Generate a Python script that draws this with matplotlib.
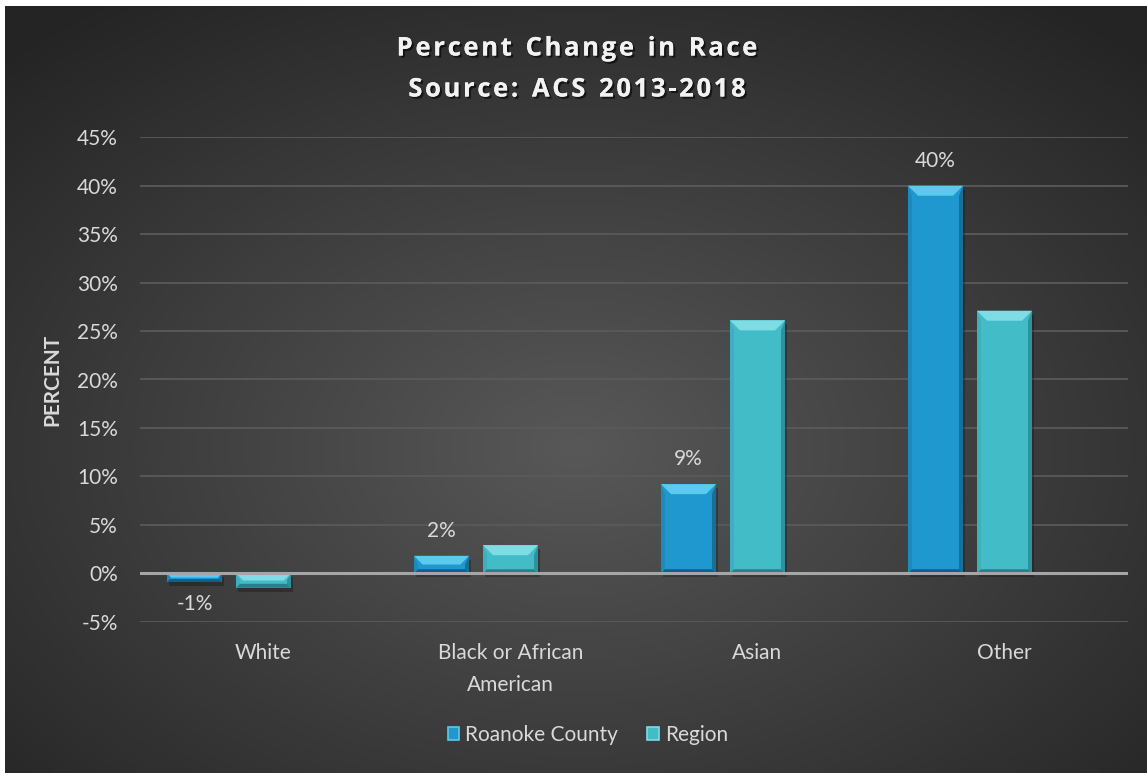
import numpy as np
import matplotlib
matplotlib.use("Agg")
import matplotlib.pyplot as plt
from matplotlib.patches import Polygon, Rectangle, Patch
import matplotlib.patheffects as pe

categories = ["White", "Black or African\nAmerican", "Asian", "Other"]
roanoke = [-0.9, 1.8, 9.2, 40.0]
region = [-1.5, 2.9, 26.1, 27.1]
roanoke_labels = ["-1%", "2%", "9%", "40%"]
yticks = [-5, 0, 5, 10, 15, 20, 25, 30, 35, 40, 45]
series_names = ["Roanoke County", "Region"]
title_lines = ["Percent Change in Race", "Source: ACS 2013-2018"]

FONT = "Lato"
TXT = "#D9D9D9"
FS = 15
W, H = 1147, 773
fig = plt.figure(figsize=(W / 100, H / 100), dpi=100, facecolor="white")

# background radial gradient
bg = fig.add_axes([5 / W, 0, 1 - 5 / W, 1 - 6 / H])
bg.set_axis_off()
yy, xx = np.mgrid[0:400, 0:600]
cx, cy = 300, 230
r = np.sqrt(((xx - cx) / 600) ** 2 + ((yy - cy) / 400) ** 2)
r = np.clip(r / 0.72, 0, 1)
inner = np.array([0x58, 0x58, 0x58]) / 255
outer = np.array([0x24, 0x24, 0x24]) / 255
img = inner[None, None, :] * (1 - r[..., None]) + outer[None, None, :] * r[..., None]
bg.imshow(img, aspect="auto", extent=[0, 1, 0, 1], origin="upper")
bg.set_xlim(0, 1)
bg.set_ylim(0, 1)

ax_l, ax_r = 140 / W, 1128 / W
ax_b, ax_t = 1 - 621.7 / H, 1 - 137.3 / H
ax = fig.add_axes([ax_l, ax_b, ax_r - ax_l, ax_t - ax_b])
ax.patch.set_alpha(0)
ax.set_xlim(-0.5, 3.5)
ax.set_ylim(-5, 45)
for s in ax.spines.values():
    s.set_visible(False)

ax.set_yticks(yticks)
ax.set_yticklabels([f"{v}%" for v in yticks], fontsize=FS, color=TXT, family=FONT)
ax.set_xticks(range(len(categories)))
ax.set_xticklabels(categories, fontsize=FS, color=TXT, family=FONT, linespacing=1.75)
ax.tick_params(length=0)
ax.tick_params(axis="x", pad=15)
ax.tick_params(axis="y", pad=16)
ax.yaxis.grid(True, color="#5A5A5A", linewidth=1.3)
ax.set_axisbelow(True)
ax.axhline(0, color="#A6A6A6", linewidth=2.2, zorder=4)

ax.set_ylabel("PERCENT", fontsize=15, fontweight="bold", color=TXT, family=FONT)
ax.yaxis.set_label_coords((62 - 140) / 988, 0.5)

px_w = (ax_r - ax_l) * W
px_h = (ax_t - ax_b) * H
dxp = 4.0 / px_w  # data per px
dyp = 50.0 / px_h

bw = 55 * dxp
offs = [-69 * dxp, 0.0]
x = np.arange(len(categories))

styles = [
    dict(face="#1F98CF", top="#5CC9EF", left="#1B8BBE", right="#15719C", bot="#0F5F86"),
    dict(face="#42BDC8", top="#7FDCE5", left="#3BB1BD", right="#2D929C", bot="#277F88"),
]

def bevel_bar(xc, val, st):
    x0, x1 = xc - bw / 2, xc + bw / 2
    y0, y1 = min(0, val), max(0, val)
    ax.add_patch(Rectangle((x0 + 2 * dxp, y0 - 4 * dyp), bw, y1 - y0, facecolor="black",
                           alpha=0.25, edgecolor="none", zorder=2))
    ax.add_patch(Rectangle((x0, y0), bw, y1 - y0, facecolor=st["face"], edgecolor="none", zorder=3))
    hpx = (y1 - y0) / dyp
    b = min(10, hpx / 2.0)
    bx, by = b * dxp, b * dyp
    s = min(4, hpx / 3.0)
    sx, sy = s * dxp, s * dyp
    ax.add_patch(Polygon([(x0, y1), (x1, y1), (x1 - bx, y1 - by), (x0 + bx, y1 - by)],
                         closed=True, facecolor=st["top"], edgecolor="none", zorder=3.5))
    ax.add_patch(Polygon([(x0, y0), (x0, y1), (x0 + sx, y1 - by), (x0 + sx, y0 + sy)],
                         closed=True, facecolor=st["left"], edgecolor="none", zorder=3.4))
    ax.add_patch(Polygon([(x1, y0), (x1, y1), (x1 - sx, y1 - by), (x1 - sx, y0 + sy)],
                         closed=True, facecolor=st["right"], edgecolor="none", zorder=3.4))
    ax.add_patch(Polygon([(x0, y0), (x1, y0), (x1 - sx, y0 + sy), (x0 + sx, y0 + sy)],
                         closed=True, facecolor=st["bot"], edgecolor="none", zorder=3.4))

for vals, off, st in zip([roanoke, region], offs, styles):
    for xi, v in zip(x, vals):
        bevel_bar(xi + off, v, st)

for xi, v, lab in zip(x, roanoke, roanoke_labels):
    dy = 25 * dyp if v >= 0 else -22 * dyp
    ax.text(xi + offs[0], v + dy, lab, ha="center", va="center", fontsize=FS,
            color=TXT, family=FONT, zorder=6)

# title with letter spacing
shadow = [pe.withSimplePatchShadow(offset=(1.5, -1.5), shadow_rgbFace="black", alpha=0.6), pe.Normal()]
renderer = fig.canvas.get_renderer()
TFS = 18.5
SP = 2.6  # extra px between letters

def spaced_text(line, cx_px, cy_px):
    widths = []
    for ch in line:
        t = fig.text(0, 0, ch if ch != " " else "n", fontsize=TFS, fontweight="bold", family="Open Sans")
        w = t.get_window_extent(renderer).width
        if ch == " ":
            w *= 0.5
        widths.append(w)
        t.remove()
    total = sum(widths) + SP * (len(line) - 1)
    xp = cx_px - total / 2
    for ch, w in zip(line, widths):
        if ch != " ":
            fig.text(xp / W, 1 - cy_px / H, ch, ha="left", va="center", fontsize=TFS,
                     fontweight="bold", color="#F2F2F2", family="Open Sans", path_effects=shadow)
        xp += w + SP

spaced_text(title_lines[0], 577, 48)
spaced_text(title_lines[1], 577, 89)

handles = [Patch(facecolor=styles[0]["face"], edgecolor=styles[0]["top"], linewidth=1.2),
           Patch(facecolor=styles[1]["face"], edgecolor=styles[1]["top"], linewidth=1.2)]
leg = fig.legend(handles, series_names, loc="center", bbox_to_anchor=(588 / W, 1 - 735 / H),
                 ncol=2, frameon=False, handlelength=0.55, handleheight=0.55,
                 handletextpad=0.3, columnspacing=1.4, prop={"family": FONT, "size": FS})
for t in leg.get_texts():
    t.set_color(TXT)

fig.savefig("out.png", dpi=100, facecolor="white")
